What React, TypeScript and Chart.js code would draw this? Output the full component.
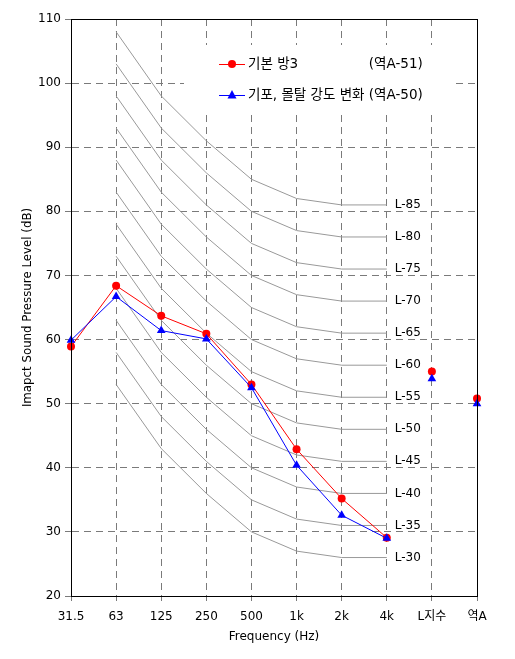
import React, { useEffect, useRef } from "react";
import { Chart, registerables } from "chart.js";

Chart.register(...registerables);

const categories = ["31.5", "63", "125", "250", "500", "1k", "2k", "4k", "L지수", "역A"];
const mainFreqs = ["31.5", "63", "125", "250", "500", "1k", "2k", "4k"];
const indexCats = ["L지수", "역A"];
const curveFreqs = ["63", "125", "250", "500", "1k", "2k", "4k"];

const series1Name = "기본 방3";
const series1Tag = "(역A-51)";
const series1 = [58.9, 68.4, 63.7, 60.9, 53.0, 42.9, 35.2, 29.1];
const series1Index = [55.0, 50.8];

const series2Name = "기포, 몰탈 강도 변화";
const series2Tag = "(역A-50)";
const series2 = [59.9, 66.7, 61.4, 60.1, 52.5, 40.4, 32.6, 29.0];
const series2Index = [53.9, 50.0];

const curveNames = ["L-30", "L-35", "L-40", "L-45", "L-50", "L-55", "L-60", "L-65", "L-70", "L-75", "L-80", "L-85"];
const L30 = [53, 43, 36, 30, 27, 26, 26];
const L35 = [58, 48, 41, 35, 32, 31, 31];
const L40 = [63, 53, 46, 40, 37, 36, 36];
const L45 = [68, 58, 51, 45, 42, 41, 41];
const L50 = [73, 63, 56, 50, 47, 46, 46];
const L55 = [78, 68, 61, 55, 52, 51, 51];
const L60 = [83, 73, 66, 60, 57, 56, 56];
const L65 = [88, 78, 71, 65, 62, 61, 61];
const L70 = [93, 83, 76, 70, 67, 66, 66];
const L75 = [98, 88, 81, 75, 72, 71, 71];
const L80 = [103, 93, 86, 80, 77, 76, 76];
const L85 = [108, 98, 91, 85, 82, 81, 81];
const curves = [L30, L35, L40, L45, L50, L55, L60, L65, L70, L75, L80, L85];

const yMin = 20;
const yMax = 110;
const yStep = 10;

const xTitle = "Frequency (Hz)";
const yTitle = "Imapct Sound Pressure Level (dB)";

const FONT = "'DejaVu Sans', 'Noto Sans CJK KR', sans-serif";
const KFONT = "'DejaVu Sans', 'Noto Sans CJK KR', sans-serif";
const GRID = "#7a7a7a";
const CURVE = "#999999";

const overlayPlugin = {
  id: "overlay",
  beforeDatasetsDraw(chart: any) {
    const ctx = chart.ctx;
    ctx.save();
    ctx.fillStyle = "#ffffff";
    ctx.fillRect(184, 45, 271, 67);
    ctx.restore();
  },
  afterDatasetsDraw(chart: any) {
    const ctx = chart.ctx;
    const xs = chart.scales.x;
    const ys = chart.scales.y;
    const area = chart.chartArea;
    ctx.save();
    ctx.strokeStyle = "#000";
    ctx.lineWidth = 1;
    ctx.strokeRect(Math.round(area.left) + 0.5, Math.round(area.top) + 0.5, Math.round(area.right - area.left), Math.round(area.bottom - area.top));
    ctx.fillStyle = "#000";
    ctx.font = `12px ${FONT}`;
    ctx.textAlign = "left";
    ctx.textBaseline = "middle";
    const x4k = xs.getPixelForValue(categories.indexOf("4k"));
    curves.forEach((c, i) => {
      const y = ys.getPixelForValue(c[c.length - 1]);
      ctx.fillText(curveNames[i], x4k + 8, y);
    });
    const items = [
      { name: series1Name, tag: series1Tag, color: "#ff0000", style: "circle", y: 64 },
      { name: series2Name, tag: series2Tag, color: "#0000ff", style: "triangle", y: 95 },
    ];
    ctx.font = `13.5px ${KFONT}`;
    const endX = 248 + ctx.measureText(series2Name + " " + series2Tag).width;
    items.forEach((it) => {
      ctx.strokeStyle = it.color;
      ctx.fillStyle = it.color;
      ctx.lineWidth = 1;
      ctx.beginPath();
      ctx.moveTo(219, it.y + 0.5);
      ctx.lineTo(245, it.y + 0.5);
      ctx.stroke();
      ctx.beginPath();
      if (it.style === "circle") {
        ctx.arc(232, it.y, 4, 0, Math.PI * 2);
      } else {
        ctx.moveTo(232, it.y - 5);
        ctx.lineTo(236.5, it.y + 3.5);
        ctx.lineTo(227.5, it.y + 3.5);
        ctx.closePath();
      }
      ctx.fill();
      ctx.fillStyle = "#000";
      ctx.textAlign = "left";
      ctx.textBaseline = "middle";
      if (it.style === "circle") {
        ctx.fillText(it.name, 248, it.y);
        ctx.textAlign = "right";
        ctx.fillText(it.tag, endX, it.y);
      } else {
        ctx.fillText(it.name + " " + it.tag, 248, it.y);
      }
    });
    ctx.restore();
  },
};

export default function App() {
  const ref = useRef<HTMLCanvasElement>(null);
  useEffect(() => {
    if (!ref.current) return;
    const datasets: any[] = [];
    curves.forEach((c, i) => {
      datasets.push({
        label: curveNames[i],
        data: curveFreqs.map((f, j) => ({ x: f, y: c[j] })),
        borderColor: CURVE,
        borderWidth: 1,
        pointRadius: 0,
        fill: false,
        order: 10,
      });
    });
    datasets.push({
      label: series1Name,
      data: mainFreqs.map((f, j) => ({ x: f, y: series1[j] })),
      borderColor: "#ff0000",
      backgroundColor: "#ff0000",
      borderWidth: 1,
      pointStyle: "circle",
      pointRadius: 4,
      pointBorderWidth: 0,
      order: 2,
    });
    datasets.push({
      label: series1Name + " idx",
      data: indexCats.map((f, j) => ({ x: f, y: series1Index[j] })),
      borderColor: "#ff0000",
      backgroundColor: "#ff0000",
      showLine: false,
      pointStyle: "circle",
      pointRadius: 4,
      pointBorderWidth: 0,
      order: 2,
    });
    datasets.push({
      label: series2Name,
      data: mainFreqs.map((f, j) => ({ x: f, y: series2[j] })),
      borderColor: "#0000ff",
      backgroundColor: "#0000ff",
      borderWidth: 1,
      pointStyle: "triangle",
      pointRadius: 5,
      pointBorderWidth: 0,
      order: 1,
    });
    datasets.push({
      label: series2Name + " idx",
      data: indexCats.map((f, j) => ({ x: f, y: series2Index[j] })),
      borderColor: "#0000ff",
      backgroundColor: "#0000ff",
      showLine: false,
      pointStyle: "triangle",
      pointRadius: 5,
      pointBorderWidth: 0,
      order: 1,
    });

    const chart = new Chart(ref.current, {
      type: "line",
      data: { labels: categories, datasets },
      plugins: [overlayPlugin],
      options: {
        responsive: false,
        animation: false,
        devicePixelRatio: 1,
        layout: { padding: { top: 19, right: 38, left: 0, bottom: 0 } },
        plugins: { legend: { display: false }, tooltip: { enabled: false } },
        elements: { line: { tension: 0 } },
        scales: {
          x: {
            type: "category",
            offset: false,
            grid: {
              offset: false,
              color: GRID,
              lineWidth: 1,
              tickLength: 5,
              tickColor: GRID,
              drawTicks: true,
            },
            border: { display: true, color: "#000", width: 1, dash: [7, 5] },
            ticks: {
              color: "#000",
              font: { family: FONT, size: 12 },
              padding: 9,
              maxRotation: 0,
              autoSkip: false,
            },
            title: {
              display: true,
              text: xTitle,
              color: "#000",
              font: { family: FONT, size: 12 },
              padding: { top: 0, bottom: 15 },
            },
            afterFit(scale: any) {
              scale.height = 63;
            },
          },
          y: {
            min: yMin,
            max: yMax,
            grid: {
              color: GRID,
              lineWidth: 1,
              tickLength: 6,
              tickColor: GRID,
            },
            border: { display: true, color: "#000", width: 1, dash: [7, 5] },
            ticks: {
              stepSize: yStep,
              color: "#000",
              font: { family: FONT, size: 12 },
              padding: 4,
            },
            title: {
              display: true,
              text: yTitle,
              color: "#000",
              font: { family: FONT, size: 11.8 },
              padding: { top: 21, bottom: 0 },
            },
            afterFit(scale: any) {
              scale.width = 71;
            },
          },
        },
      } as any,
    });
    return () => chart.destroy();
  }, []);
  return (
    <div style={{ position: "absolute", left: 0, top: 0, width: 515, height: 659 }}>
      <canvas ref={ref} width={515} height={659} style={{ width: 515, height: 659 }} />
    </div>
  );
}
